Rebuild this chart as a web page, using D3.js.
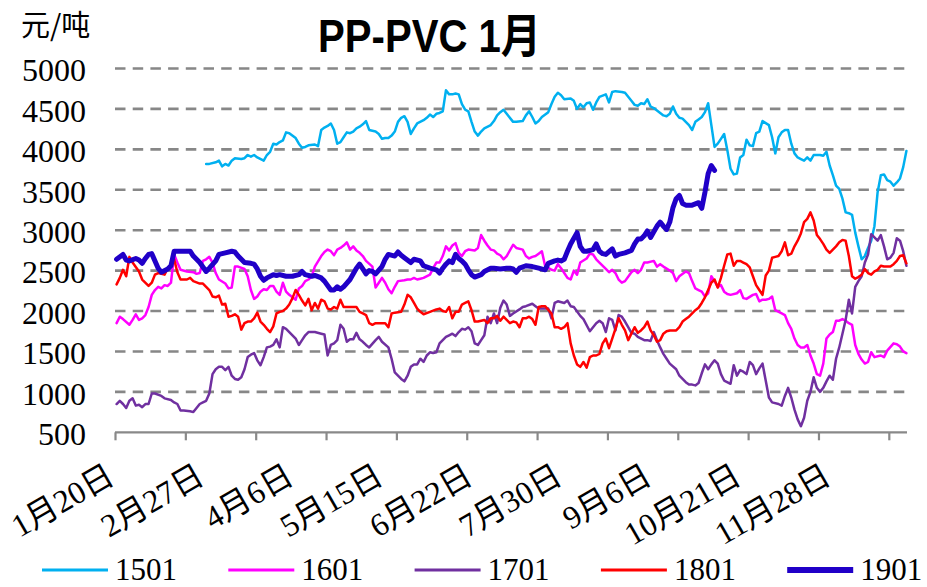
<!DOCTYPE html>
<html>
<head>
<meta charset="utf-8">
<script src="https://cdn.jsdelivr.net/npm/d3@7"></script>
<style>
  html, body { margin: 0; padding: 0; background: #ffffff; }
  svg { display: block; }
</style>
</head>
<body>
<svg id="chart" width="927" height="587"></svg>
<script>
// ---- data -------------------------------------------------------------
// Trading-day index (0 = 1月20日) and spread in 元/吨 for each contract.
const seriesNames = ["1501", "1601", "1701", "1801", "1901"];
const seriesColors = ["#00B0F0", "#FF00FF", "#7030A0", "#FF0000", "#2000C8"];
const seriesWidths = [2.5, 2.5, 2.5, 2.5, 5];

const dayCount = 248;          // trading days on the category axis
const tickEvery = 22;          // tick mark interval (days)
const labelDays = [0, 28, 56, 84, 112, 140, 168, 196, 224];
const tickLabels = ["1月20日", "2月27日", "4月6日", "5月15日", "6月22日",
                    "7月30日", "9月6日", "10月21日", "11月28日"];
const yTicks = [500, 1000, 1500, 2000, 2500, 3000, 3500, 4000, 4500, 5000];

const s1501 = [[28,3820],[29,3820],[31,3840],[32,3860],[33,3790],[34,3820],[35,3800],[36,3860],[37,3890],[39,3880],[40,3890],[41,3930],[42,3910],[43,3930],[44,3900],[46,3860],[47,3930],[48,3970],[49,4070],[50,4060],[51,4090],[52,4110],[53,4210],[54,4200],[56,4140],[57,4070],[58,4020],[59,4030],[60,4050],[62,4060],[63,4040],[64,4240],[65,4270],[66,4290],[67,4320],[68,4240],[69,4070],[70,4090],[71,4150],[72,4210],[73,4200],[74,4220],[75,4260],[76,4280],[77,4310],[78,4350],[79,4240],[80,4230],[81,4220],[82,4190],[83,4130],[84,4140],[85,4140],[86,4170],[87,4220],[88,4340],[89,4390],[90,4410],[91,4340],[92,4190],[93,4260],[94,4320],[96,4360],[97,4390],[98,4430],[99,4400],[100,4440],[101,4450],[102,4470],[103,4730],[104,4680],[105,4680],[106,4690],[107,4680],[108,4560],[109,4490],[110,4470],[111,4340],[112,4220],[113,4170],[114,4220],[115,4260],[117,4300],[118,4350],[119,4420],[120,4460],[121,4490],[122,4440],[124,4340],[125,4340],[127,4350],[128,4420],[129,4470],[130,4400],[131,4320],[132,4350],[133,4400],[135,4460],[136,4560],[137,4650],[138,4700],[139,4670],[140,4620],[142,4630],[143,4600],[144,4500],[145,4560],[146,4520],[147,4570],[148,4580],[149,4490],[150,4580],[151,4650],[153,4680],[154,4580],[155,4710],[156,4720],[158,4710],[159,4700],[161,4600],[162,4550],[163,4540],[164,4570],[165,4560],[166,4620],[167,4530],[168,4510],[169,4480],[171,4420],[172,4410],[173,4440],[174,4530],[175,4440],[176,4390],[177,4380],[178,4340],[179,4300],[180,4240],[181,4340],[182,4370],[183,4400],[184,4460],[185,4570],[186,4300],[187,4030],[188,4070],[189,4130],[190,4190],[191,3990],[192,3760],[193,3690],[194,3700],[195,3900],[196,3930],[197,4120],[198,4050],[199,4040],[200,4200],[201,4220],[202,4350],[204,4300],[205,4150],[206,3950],[207,4150],[208,4210],[209,4240],[210,4240],[211,4070],[212,3950],[213,3900],[214,3880],[215,3860],[216,3900],[217,3860],[218,3930],[220,3930],[221,3920],[222,3970],[223,3800],[224,3680],[225,3550],[226,3510],[227,3390],[228,3220],[229,3210],[230,3190],[231,2970],[232,2800],[233,2640],[234,2680],[235,2780],[236,2870],[237,3050],[238,3470],[239,3680],[240,3690],[241,3620],[242,3600],[243,3550],[244,3590],[245,3640],[246,3780],[247,3980]];

const s1601 = [[0,1850],[1,1930],[2,1900],[4,1830],[5,1890],[6,1960],[7,1890],[8,1910],[9,1950],[10,2050],[11,2200],[12,2260],[13,2300],[14,2280],[15,2320],[16,2310],[17,2350],[18,2700],[19,2600],[20,2510],[22,2490],[24,2480],[25,2460],[26,2470],[27,2620],[28,2640],[29,2670],[30,2600],[31,2470],[32,2390],[34,2340],[35,2280],[36,2290],[37,2550],[38,2550],[40,2520],[41,2430],[42,2260],[43,2150],[44,2180],[45,2240],[46,2270],[47,2260],[48,2310],[49,2310],[50,2240],[51,2200],[52,2350],[53,2240],[54,2200],[56,2140],[57,2280],[58,2310],[59,2370],[60,2390],[61,2430],[62,2550],[64,2680],[65,2730],[66,2760],[67,2740],[68,2690],[69,2760],[70,2780],[71,2810],[72,2850],[73,2760],[74,2800],[75,2750],[76,2720],[77,2680],[78,2620],[80,2550],[81,2290],[82,2350],[83,2410],[84,2350],[85,2270],[86,2220],[87,2300],[88,2370],[90,2380],[91,2390],[92,2390],[93,2410],[94,2390],[95,2400],[96,2410],[98,2450],[99,2530],[100,2600],[101,2600],[102,2680],[103,2800],[104,2750],[105,2810],[106,2840],[107,2720],[108,2680],[109,2740],[110,2760],[112,2750],[113,2780],[114,2940],[115,2870],[116,2810],[117,2760],[118,2750],[119,2710],[120,2690],[121,2640],[122,2680],[124,2820],[125,2780],[127,2760],[128,2680],[129,2650],[130,2670],[131,2680],[132,2710],[133,2740],[134,2560],[136,2510],[137,2500],[138,2580],[139,2530],[140,2470],[141,2410],[142,2390],[143,2500],[144,2450],[145,2600],[147,2650],[148,2710],[149,2700],[150,2640],[151,2600],[153,2520],[154,2480],[155,2510],[156,2470],[157,2390],[158,2350],[159,2370],[161,2480],[162,2510],[163,2470],[164,2510],[165,2600],[166,2600],[168,2620],[169,2550],[170,2580],[171,2550],[173,2500],[174,2470],[175,2370],[176,2430],[178,2490],[179,2470],[180,2370],[181,2280],[182,2260],[183,2240],[184,2180],[185,2220],[186,2430],[187,2370],[188,2300],[189,2320],[190,2240],[191,2210],[192,2200],[194,2220],[195,2260],[196,2160],[197,2150],[199,2200],[200,2210],[201,2120],[202,2140],[203,2140],[204,2150],[205,2180],[206,2010],[208,1970],[209,1950],[210,1850],[211,1780],[212,1660],[213,1580],[214,1550],[215,1550],[216,1580],[217,1450],[218,1350],[219,1220],[220,1200],[221,1350],[222,1660],[223,1710],[224,1740],[225,1880],[226,1880],[227,1900],[228,1880],[229,1850],[230,1830],[231,1580],[232,1470],[233,1400],[234,1350],[235,1370],[236,1490],[237,1430],[239,1450],[240,1430],[241,1510],[243,1600],[244,1590],[245,1560],[246,1500],[247,1480]];

const s1701 = [[0,850],[1,890],[2,850],[3,800],[4,890],[5,920],[6,830],[7,840],[8,810],[9,850],[10,850],[11,980],[12,980],[14,950],[15,920],[17,900],[18,870],[19,850],[20,770],[21,770],[23,760],[24,750],[25,800],[26,850],[27,870],[28,890],[29,980],[30,1220],[31,1280],[32,1310],[33,1310],[34,1270],[35,1310],[36,1200],[37,1160],[38,1150],[39,1180],[40,1280],[41,1430],[42,1460],[43,1480],[44,1390],[45,1330],[46,1430],[47,1550],[48,1560],[49,1580],[50,1650],[51,1550],[52,1800],[53,1780],[54,1740],[55,1700],[56,1660],[57,1580],[58,1640],[59,1700],[60,1740],[62,1740],[64,1720],[65,1710],[66,1450],[67,1580],[68,1600],[69,1640],[70,1830],[71,1780],[72,1620],[73,1650],[74,1650],[75,1730],[76,1650],[77,1620],[78,1580],[79,1550],[81,1640],[82,1680],[83,1620],[85,1550],[86,1410],[87,1240],[88,1200],[89,1160],[90,1130],[91,1200],[92,1310],[93,1340],[94,1340],[95,1410],[96,1370],[97,1450],[98,1490],[99,1480],[100,1490],[101,1600],[102,1640],[103,1680],[104,1700],[105,1720],[106,1690],[107,1740],[108,1780],[109,1770],[110,1800],[111,1750],[112,1600],[113,1580],[114,1640],[115,1700],[116,1930],[117,1850],[118,1970],[119,1850],[120,2040],[121,2130],[122,2080],[123,1940],[124,1970],[126,2020],[127,2050],[128,2060],[130,2090],[131,2060],[132,2030],[133,2030],[135,2030],[136,1910],[137,2100],[138,2120],[140,2100],[141,2130],[142,2060],[143,2050],[145,1940],[146,1900],[148,1750],[149,1800],[150,1850],[151,1880],[152,1850],[153,1740],[154,1910],[155,1890],[156,1760],[157,1950],[158,1930],[159,1870],[160,1800],[161,1730],[162,1720],[163,1680],[165,1640],[166,1640],[167,1630],[168,1740],[169,1640],[170,1550],[171,1470],[172,1410],[173,1350],[175,1280],[176,1200],[178,1120],[179,1090],[180,1090],[181,1080],[182,1110],[183,1230],[184,1340],[185,1280],[186,1340],[187,1390],[188,1350],[189,1220],[190,1140],[192,1100],[193,1330],[194,1200],[195,1270],[196,1250],[197,1220],[198,1370],[199,1330],[200,1220],[201,1290],[202,1350],[203,1140],[204,930],[205,870],[207,850],[208,830],[209,950],[210,1050],[211,930],[212,780],[213,660],[214,575],[215,680],[216,890],[217,1000],[218,1180],[219,1050],[220,1000],[221,1050],[222,1130],[223,1200],[224,1150],[225,1410],[226,1550],[227,1720],[228,1890],[229,2140],[230,1970],[231,2300],[232,2370],[233,2430],[234,2600],[235,2700],[236,2950],[237,2910],[238,2870],[239,2940],[240,2800],[241,2640],[242,2660],[243,2720],[244,2900],[245,2870],[246,2740],[247,2560]];

const s1801 = [[0,2330],[1,2410],[2,2510],[3,2430],[4,2670],[5,2600],[7,2490],[8,2390],[10,2310],[11,2350],[12,2450],[13,2470],[15,2450],[16,2530],[17,2550],[18,2640],[19,2480],[20,2390],[22,2390],[23,2410],[24,2370],[26,2340],[27,2340],[28,2300],[29,2260],[30,2180],[31,2170],[32,2190],[33,2080],[34,2090],[35,1930],[36,1940],[37,1960],[38,1930],[39,1770],[40,1850],[41,1870],[42,1870],[43,1910],[44,1980],[45,1870],[46,1830],[47,1780],[48,1740],[49,1810],[50,1970],[51,1990],[52,2000],[53,2030],[54,2080],[55,2160],[56,2260],[57,2200],[58,2130],[59,2070],[60,2150],[61,2010],[62,2100],[63,2030],[64,2140],[65,2120],[66,2030],[67,2020],[68,2050],[69,2030],[70,2140],[71,2050],[73,2050],[75,2050],[76,1990],[77,1970],[78,1950],[79,1850],[80,1830],[81,1850],[83,1850],[84,1850],[85,1800],[86,1970],[87,1980],[89,1990],[90,2080],[91,2200],[92,2170],[93,2100],[94,2030],[95,1990],[96,1960],[98,1990],[100,2020],[101,2030],[102,2000],[103,1990],[104,2050],[105,1910],[106,1990],[107,1990],[108,2080],[109,2100],[110,2120],[111,2010],[112,1870],[113,1870],[115,1890],[116,1850],[117,1910],[118,1910],[119,1940],[120,1880],[121,1930],[122,1890],[123,1850],[124,1870],[125,1860],[126,1800],[127,1910],[128,1910],[129,1930],[130,1900],[131,1830],[132,2050],[133,2060],[134,2060],[136,1970],[137,1800],[138,1800],[139,1780],[140,1800],[141,1850],[142,1600],[143,1450],[144,1340],[145,1310],[146,1370],[147,1300],[148,1430],[149,1450],[150,1450],[151,1470],[152,1600],[153,1660],[154,1540],[155,1660],[156,1780],[157,1910],[158,1830],[159,1760],[160,1640],[161,1720],[162,1800],[163,1730],[164,1760],[165,1800],[166,1870],[167,1760],[168,1700],[169,1620],[170,1640],[171,1720],[172,1750],[173,1760],[174,1760],[175,1760],[176,1800],[177,1870],[178,1900],[179,1930],[180,1970],[181,2010],[182,2040],[183,2100],[184,2170],[185,2260],[186,2350],[187,2390],[188,2290],[189,2410],[190,2560],[191,2700],[192,2710],[193,2560],[194,2620],[195,2620],[196,2600],[197,2580],[198,2540],[199,2430],[200,2320],[201,2260],[202,2200],[203,2440],[204,2500],[205,2660],[206,2670],[207,2680],[208,2740],[209,2850],[210,2690],[211,2710],[212,2800],[213,2870],[214,2960],[215,3100],[216,3140],[217,3220],[218,3120],[219,2940],[220,2890],[221,2830],[222,2760],[223,2720],[224,2760],[225,2800],[226,2850],[227,2880],[228,2870],[229,2680],[230,2430],[231,2400],[232,2420],[233,2450],[234,2520],[235,2470],[236,2450],[237,2490],[238,2510],[239,2560],[240,2550],[242,2550],[243,2580],[244,2620],[245,2680],[246,2690],[247,2590]];

const s1901 = [[0,2640],[2,2700],[3,2630],[4,2620],[6,2650],[7,2630],[8,2590],[9,2650],[10,2700],[11,2710],[12,2620],[13,2530],[14,2480],[16,2520],[17,2560],[18,2740],[23,2740],[24,2680],[26,2600],[28,2490],[29,2530],[31,2620],[32,2700],[33,2710],[34,2720],[36,2740],[37,2730],[38,2680],[40,2600],[42,2590],[43,2580],[44,2520],[45,2430],[46,2380],[47,2410],[49,2450],[50,2440],[51,2450],[53,2430],[55,2430],[57,2450],[58,2490],[59,2450],[61,2430],[62,2440],[64,2410],[65,2370],[67,2260],[68,2260],[69,2300],[70,2270],[71,2300],[73,2390],[75,2530],[76,2580],[77,2520],[78,2460],[79,2500],[80,2490],[81,2460],[83,2550],[84,2640],[85,2700],[87,2680],[88,2730],[89,2690],[90,2660],[92,2600],[93,2640],[95,2620],[96,2560],[98,2530],[100,2510],[101,2470],[102,2530],[103,2580],[104,2620],[105,2600],[106,2700],[107,2650],[108,2620],[109,2580],[110,2510],[111,2450],[112,2420],[114,2450],[115,2490],[117,2530],[118,2530],[120,2520],[122,2530],[123,2530],[124,2520],[125,2480],[126,2530],[128,2560],[130,2550],[132,2530],[134,2510],[135,2590],[137,2620],[138,2630],[139,2620],[140,2640],[141,2740],[142,2830],[144,2970],[145,2800],[146,2740],[147,2740],[149,2760],[150,2830],[151,2740],[152,2710],[153,2700],[155,2770],[156,2680],[157,2700],[159,2720],[161,2750],[162,2830],[163,2890],[164,2890],[165,2930],[166,2990],[167,2910],[168,2980],[169,3050],[170,3100],[171,3050],[172,3010],[173,3100],[174,3280],[175,3390],[176,3430],[177,3330],[178,3310],[180,3310],[182,3340],[183,3270],[184,3470],[185,3700],[186,3800],[187,3740]];

const seriesData = [s1501, s1601, s1701, s1801, s1901];

// ---- layout -------------------------------------------------------------
const svg = d3.select("#chart");
const plotLeft = 115, plotRight = 907, plotTop = 68.5, plotBottom = 432.3;

const x = d3.scaleLinear().domain([0, dayCount]).range([plotLeft, plotRight + 1]);
const y = d3.scaleLinear().domain([500, 5000]).range([plotBottom, plotTop]);

const serif = "'Liberation Serif', 'Times New Roman', 'Noto Sans CJK SC', serif";

// title and unit
svg.append("text")
  .attr("x", 318).attr("y", 52)
  .attr("textLength", 223).attr("lengthAdjust", "spacingAndGlyphs")
  .style("font-family", "'Liberation Sans', Arial, 'Noto Sans CJK SC', sans-serif")
  .style("font-weight", "bold").style("font-size", "46px").attr("fill", "#000")
  .text("PP-PVC 1月");

svg.append("text")
  .attr("x", 21).attr("y", 36)
  .style("font-family", "'Noto Sans CJK SC', sans-serif")
  .style("font-size", "29px").attr("fill", "#000")
  .text("元/吨");

// dashed horizontal gridlines
svg.append("g").selectAll("line")
  .data(yTicks.filter(v => v > 500))
  .join("line")
  .attr("x1", plotLeft).attr("x2", plotRight)
  .attr("y1", d => y(d)).attr("y2", d => y(d))
  .attr("stroke", "#878787").attr("stroke-width", 2.6)
  .attr("stroke-dasharray", "10.5,7.2");

// y tick labels
svg.append("g").selectAll("text")
  .data(yTicks)
  .join("text")
  .attr("x", 86).attr("y", d => y(d)).attr("dy", "0.4em")
  .attr("text-anchor", "end")
  .style("font-family", serif).style("font-size", "32px").attr("fill", "#000")
  .text(d => d);

// bottom category axis with tick marks every 22 days
const tickDays = d3.range(0, dayCount, tickEvery);
const xAxis = d3.axisBottom(x)
  .tickValues(tickDays)
  .tickSize(8)
  .tickSizeOuter(0)
  .tickFormat("");
const axisG = svg.append("g")
  .attr("transform", `translate(0,${plotBottom})`)
  .call(xAxis);
axisG.select(".domain").attr("stroke", "#898989").attr("stroke-width", 2.2)
  .attr("d", `M${plotLeft},0H${plotRight}`);
axisG.selectAll(".tick line").attr("stroke", "#898989").attr("stroke-width", 2.2);

// rotated date labels
svg.append("g").selectAll("text")
  .data(labelDays)
  .join("text")
  .attr("transform", (d) => `translate(${x(d + 0.5)},482) rotate(-30)`)
  .attr("text-anchor", "end")
  .style("font-family", serif).style("font-size", "32px").attr("fill", "#000")
  .text((d, i) => tickLabels[i]);

// series lines
const line = d3.line()
  .x(d => x(d[0] + 0.5))
  .y(d => y(d[1]));

svg.append("g").selectAll("path")
  .data(seriesData)
  .join("path")
  .attr("d", line)
  .attr("fill", "none")
  .attr("stroke", (d, i) => seriesColors[i])
  .attr("stroke-width", (d, i) => seriesWidths[i])
  .attr("stroke-linejoin", "round")
  .attr("stroke-linecap", "round");

// legend
const legend = svg.append("g").selectAll("g")
  .data(seriesNames)
  .join("g")
  .attr("transform", (d, i) => `translate(${42 + i * 186.3},570)`);
legend.append("line")
  .attr("x1", 0).attr("x2", 66).attr("y1", 0).attr("y2", 0)
  .attr("stroke", (d, i) => seriesColors[i])
  .attr("stroke-width", (d, i) => i === 4 ? 6 : 3);
legend.append("text")
  .attr("x", 73).attr("y", 0).attr("dy", "0.33em")
  .style("font-family", serif).style("font-size", "31px").attr("fill", "#000")
  .text(d => d);
</script>
</body>
</html>
